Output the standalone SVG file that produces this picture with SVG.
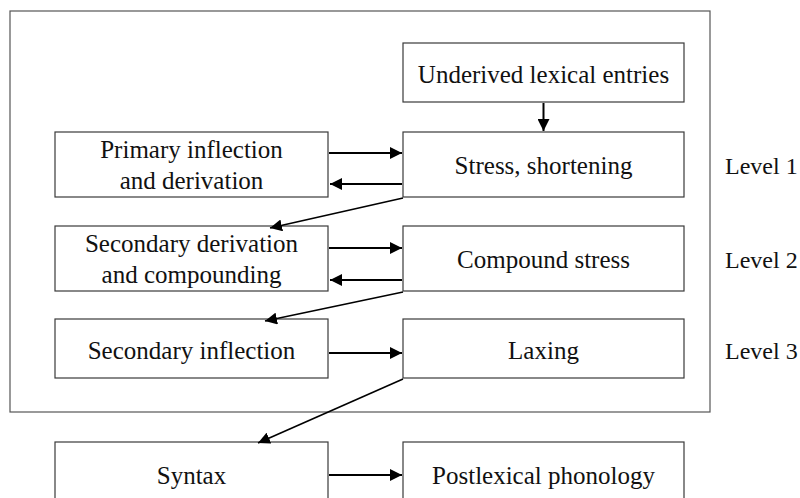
<svg xmlns="http://www.w3.org/2000/svg" width="800" height="498" viewBox="0 0 800 498">
  <style>
    .box { fill: #ffffff; stroke: #3a3a3a; stroke-width: 1.2; }
    .frame { fill: none; stroke: #555555; stroke-width: 1.2; }
    .lbl { font-family: "Liberation Serif", "Times New Roman", serif; font-size: 25px; fill: #111111; text-anchor: middle; }
    .lvl { font-family: "Liberation Serif", "Times New Roman", serif; font-size: 24px; fill: #111111; }
    .arr { stroke: #000000; stroke-width: 2; fill: none; marker-end: url(#head); }
    .diag { stroke: #000000; stroke-width: 1.6; fill: none; marker-end: url(#head); }
  </style>
  <defs>
    <marker id="head" viewBox="0 0 10 10" refX="10" refY="5" markerWidth="12" markerHeight="12" markerUnits="userSpaceOnUse" orient="auto">
      <path d="M0,0 L10,5 L0,10 z" fill="#000000"/>
    </marker>
  </defs>

  <rect class="frame" x="10" y="11" width="700" height="401"/>

  <g id="underived">
    <rect class="box" x="403" y="43" width="281" height="59"/>
    <text class="lbl" x="543.5" y="83">Underived lexical entries</text>
  </g>
  <g id="primary">
    <rect class="box" x="55" y="132" width="273" height="65"/>
    <text class="lbl" x="191.5" y="158">Primary inflection</text>
    <text class="lbl" x="191.5" y="189">and derivation</text>
  </g>
  <g id="stress">
    <rect class="box" x="403" y="132" width="281" height="65"/>
    <text class="lbl" x="543.5" y="174">Stress, shortening</text>
  </g>
  <g id="secondary-derivation">
    <rect class="box" x="55" y="226" width="273" height="65"/>
    <text class="lbl" x="191.5" y="252">Secondary derivation</text>
    <text class="lbl" x="191.5" y="283">and compounding</text>
  </g>
  <g id="compound">
    <rect class="box" x="403" y="226" width="281" height="65"/>
    <text class="lbl" x="543.5" y="268">Compound stress</text>
  </g>
  <g id="secondary-inflection">
    <rect class="box" x="55" y="319" width="273" height="59"/>
    <text class="lbl" x="191.5" y="359">Secondary inflection</text>
  </g>
  <g id="laxing">
    <rect class="box" x="403" y="319" width="281" height="59"/>
    <text class="lbl" x="543.5" y="359">Laxing</text>
  </g>
  <g id="syntax">
    <rect class="box" x="55" y="442" width="273" height="70"/>
    <text class="lbl" x="191.5" y="484">Syntax</text>
  </g>
  <g id="postlexical">
    <rect class="box" x="403" y="442" width="281" height="70"/>
    <text class="lbl" x="543.5" y="484">Postlexical phonology</text>
  </g>

  <g id="level-labels">
    <text class="lvl" x="725" y="174">Level 1</text>
    <text class="lvl" x="725" y="268">Level 2</text>
    <text class="lvl" x="725" y="359">Level 3</text>
  </g>

  <g id="connectors">
    <line class="arr" x1="543.5" y1="103" x2="543.5" y2="131"/>
    <line class="arr" x1="329" y1="153" x2="402" y2="153"/>
    <line class="arr" x1="402" y1="184" x2="330" y2="184"/>
    <line class="diag" x1="403" y1="198" x2="270" y2="228"/>
    <line class="arr" x1="329" y1="248" x2="402" y2="248"/>
    <line class="arr" x1="402" y1="280" x2="330" y2="280"/>
    <line class="diag" x1="403" y1="292" x2="265" y2="321"/>
    <line class="arr" x1="329" y1="353" x2="402" y2="353"/>
    <line class="diag" x1="403" y1="379" x2="258" y2="443"/>
    <line class="arr" x1="329" y1="475" x2="402" y2="475"/>
  </g>
</svg>
